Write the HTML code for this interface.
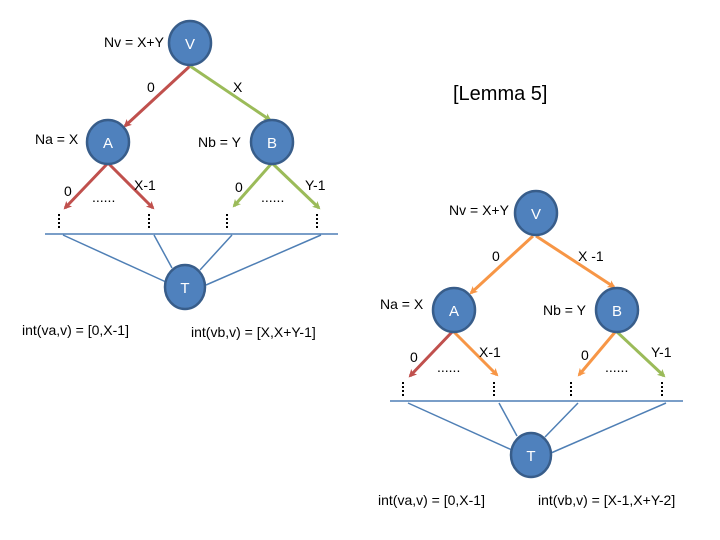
<!DOCTYPE html>
<html><head><meta charset="utf-8"><style>
html,body{margin:0;padding:0;background:#fff;}
svg{display:block;}
text{font-family:"Liberation Sans",sans-serif;font-size:14px;fill:#000;}
.n{fill:#4f81bd;stroke:#385d8a;stroke-width:2.5;}
.nl{fill:#fff;font-size:15px;text-anchor:middle;}
.bl{stroke:#4f7fb5;stroke-width:1.5;fill:none;}
.dot{stroke:#000;stroke-width:2;stroke-dasharray:2 2;}
</style></head><body>
<svg width="720" height="540" viewBox="0 0 720 540" xmlns="http://www.w3.org/2000/svg">
<defs>
<marker id="mr" markerWidth="8" markerHeight="8" refX="6" refY="4" orient="auto" markerUnits="userSpaceOnUse"><path d="M0,0 L8,4 L0,8 L2,4 Z" fill="#c0504d"/></marker>
<marker id="mg" markerWidth="8" markerHeight="8" refX="6" refY="4" orient="auto" markerUnits="userSpaceOnUse"><path d="M0,0 L8,4 L0,8 L2,4 Z" fill="#9bbb59"/></marker>
<marker id="mo" markerWidth="8" markerHeight="8" refX="6" refY="4" orient="auto" markerUnits="userSpaceOnUse"><path d="M0,0 L8,4 L0,8 L2,4 Z" fill="#f79646"/></marker>
</defs>

<!-- LEFT TREE -->
<g stroke-width="3" fill="none">
<line x1="190" y1="66" x2="125" y2="126" stroke="#c0504d" marker-end="url(#mr)"/>
<line x1="190" y1="66" x2="270" y2="120" stroke="#9bbb59" marker-end="url(#mg)"/>
<line x1="108" y1="163" x2="65" y2="208" stroke="#c0504d" marker-end="url(#mr)"/>
<line x1="108" y1="163" x2="153" y2="208" stroke="#c0504d" marker-end="url(#mr)"/>
<line x1="272" y1="163" x2="234" y2="206" stroke="#9bbb59" marker-end="url(#mg)"/>
<line x1="272" y1="163" x2="319" y2="208" stroke="#9bbb59" marker-end="url(#mg)"/>
</g>
<g class="dot">
<line x1="59" y1="214" x2="59" y2="230"/><line x1="149" y1="214" x2="149" y2="230"/>
<line x1="227" y1="214" x2="227" y2="230"/><line x1="317" y1="214" x2="317" y2="230"/>
</g>
<text x="92" y="202" font-size="12">......</text>
<text x="261" y="202" font-size="12">......</text>
<line class="bl" x1="45" y1="234" x2="338" y2="234"/>
<line class="bl" x1="63" y1="235" x2="166" y2="282"/>
<line class="bl" x1="154" y1="235" x2="172" y2="268"/>
<line class="bl" x1="232" y1="235" x2="200" y2="270"/>
<line class="bl" x1="321" y1="235" x2="206" y2="285"/>

<ellipse class="n" cx="190" cy="43" rx="21" ry="22"/><text class="nl" x="190" y="49">V</text>
<ellipse class="n" cx="108" cy="142" rx="21" ry="22"/><text class="nl" x="108" y="148">A</text>
<ellipse class="n" cx="272" cy="142" rx="21" ry="22"/><text class="nl" x="272" y="148">B</text>
<ellipse class="n" cx="185" cy="287" rx="20" ry="22"/><text class="nl" x="185" y="293">T</text>

<text x="104" y="47">Nv = X+Y</text>
<text x="147" y="92">0</text>
<text x="233" y="92">X</text>
<text x="35" y="144">Na = X</text>
<text x="198" y="147">Nb = Y</text>
<text x="64" y="196">0</text>
<text x="134" y="190">X-1</text>
<text x="235" y="192">0</text>
<text x="305" y="190">Y-1</text>
<text x="22" y="335">int(va,v) = [0,X-1]</text>
<text x="191" y="337">int(vb,v) = [X,X+Y-1]</text>

<text x="453" y="100" style="font-size:20px">[Lemma 5]</text>

<!-- RIGHT TREE -->
<g stroke-width="3" fill="none">
<line x1="533" y1="236" x2="471" y2="293" stroke="#f79646" marker-end="url(#mo)"/>
<line x1="536" y1="236" x2="614" y2="287" stroke="#f79646" marker-end="url(#mo)"/>
<line x1="453" y1="331" x2="410" y2="376" stroke="#c0504d" marker-end="url(#mr)"/>
<line x1="453" y1="331" x2="497" y2="375" stroke="#f79646" marker-end="url(#mo)"/>
<line x1="616" y1="331" x2="579" y2="375" stroke="#f79646" marker-end="url(#mo)"/>
<line x1="616" y1="331" x2="664" y2="376" stroke="#9bbb59" marker-end="url(#mg)"/>
</g>
<g class="dot">
<line x1="403" y1="382" x2="403" y2="398"/><line x1="494" y1="382" x2="494" y2="398"/>
<line x1="571" y1="382" x2="571" y2="398"/><line x1="662" y1="382" x2="662" y2="398"/>
</g>
<text x="437" y="372" font-size="12">......</text>
<text x="605" y="372" font-size="12">......</text>
<line class="bl" x1="390" y1="401" x2="683" y2="401"/>
<line class="bl" x1="408" y1="403" x2="512" y2="450"/>
<line class="bl" x1="499" y1="403" x2="517" y2="436"/>
<line class="bl" x1="578" y1="403" x2="545" y2="437"/>
<line class="bl" x1="666" y1="403" x2="551" y2="453"/>

<ellipse class="n" cx="536" cy="213" rx="21" ry="22"/><text class="nl" x="536" y="219">V</text>
<ellipse class="n" cx="454" cy="310" rx="21" ry="22"/><text class="nl" x="454" y="316">A</text>
<ellipse class="n" cx="617" cy="310" rx="21" ry="22"/><text class="nl" x="617" y="316">B</text>
<ellipse class="n" cx="531" cy="455" rx="20" ry="22"/><text class="nl" x="531" y="461">T</text>

<text x="449" y="215">Nv = X+Y</text>
<text x="492" y="261">0</text>
<text x="578" y="261">X -1</text>
<text x="380" y="309">Na = X</text>
<text x="543" y="315">Nb = Y</text>
<text x="410" y="362">0</text>
<text x="479" y="357">X-1</text>
<text x="581" y="360">0</text>
<text x="651" y="357">Y-1</text>
<text x="378" y="505">int(va,v) = [0,X-1]</text>
<text x="538" y="505">int(vb,v) = [X-1,X+Y-2]</text>
</svg>
</body></html>
